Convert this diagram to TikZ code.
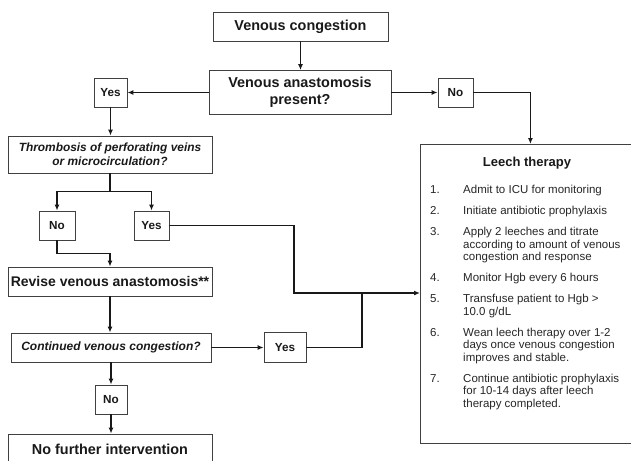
\documentclass[tikz,border=0pt]{standalone}
\usepackage{fontspec}
\setmainfont{Liberation Sans}
\usetikzlibrary{arrows.meta}

\newcommand{\bigbf}{\fontsize{14.4}{17.3}\selectfont\bfseries}
\newcommand{\smallbf}{\fontsize{11.7}{14}\selectfont\bfseries}
\newcommand{\askbf}{\fontsize{11.9}{14}\selectfont\bfseries\itshape}
\newcommand{\listfont}{\fontsize{11.5}{12.5}\selectfont}

\tikzset{
  box/.style={draw=black!75, line width=0.8pt, inner sep=0pt, minimum height=29pt, text=black!90},
  wire/.style={line width=1.5pt, black!90},
  flow/.style={wire, -{Latex[length=6pt,width=5pt]}}
}

\begin{document}
\begin{tikzpicture}[x=1pt,y=-1pt]
    \useasboundingbox (0,0) rectangle (631,460);
    \clip (0,0) rectangle (631,460);
    % boxes
    \node[box, minimum width=175pt, font=\bigbf] (cong) at (300.5,26.5) {Venous congestion};
    \node[box, minimum width=182pt, minimum height=44pt, align=center, font=\bigbf] (anast) at (300,92.5) {Venous anastomosis\\present?};
    \node[box, minimum width=33pt, font=\smallbf] (yesA) at (110.5,92.5) {Yes};
    \node[box, minimum width=35pt, font=\smallbf] (noA)  at (455.5,92.5) {No};
    \node[box, minimum width=204pt, minimum height=37pt, align=center, font=\askbf] (thromb) at (110,154.5) {Thrombosis of perforating veins\\or microcirculation?};
    \node[box, minimum width=36pt, font=\smallbf] (noB)  at (57,225.5)    {No};
    \node[box, minimum width=35pt, font=\smallbf] (yesB) at (151.5,225.5) {Yes};
    \node[box, minimum width=204pt, font=\fontsize{14}{17}\selectfont\bfseries] (revise) at (110,281.5) {Revise venous anastomosis**};
    \node[box, minimum width=200pt, font=\fontsize{12}{14}\selectfont\bfseries\itshape] (cont) at (111,347.5) {Continued venous congestion?};
    \node[box, minimum width=42pt, minimum height=30pt, font=\smallbf] (yesC) at (285,347.5) {Yes};
    \node[box, minimum width=32pt, font=\smallbf] (noC)  at (111,399.5) {No};
    \node[box, minimum width=204pt, minimum height=30pt, font=\bigbf] (none) at (110,449) {No further intervention};
    % leech therapy
    \node[box, minimum width=220pt, minimum height=299pt, anchor=north west] (leech) at (420,144) {};
    \node[font=\fontsize{13}{15}\selectfont\bfseries, text=black!90] (leechT) at (527,163) {Leech therapy};
    \node[anchor=north west, inner sep=0pt, font=\listfont, text=black!85] (steps) at (430,185) {%
      \begin{tabular}{@{}p{33pt}@{}p{170pt}@{}}
      1. & Admit to ICU for monitoring\\[8.5pt]
      2. & Initiate antibiotic prophylaxis\\[8.5pt]
      3. & Apply 2 leeches and titrate\newline according to amount of venous\newline congestion and response\\[8.5pt]
      4. & Monitor Hgb every 6 hours\\[8.5pt]
      5. & Transfuse patient to Hgb >\newline 10.0 g/dL\\[8.5pt]
      6. & Wean leech therapy over 1-2\newline days once venous congestion\newline improves and stable.\\[8.5pt]
      7. & Continue antibiotic prophylaxis\newline for 10-14 days after leech\newline therapy completed.
      \end{tabular}};
    % connectors
    \coordinate (bend)  at (294,293);
    \coordinate (merge) at (362,293);
    \draw[flow] (cong.south) -- (cong.south |- anast.north);
    \draw[flow] (anast.west) -- (yesA.east);
    \draw[flow] (anast.east) -- (noA.west);
    \draw[flow] (noA.east) -| (leech.north);
    \draw[flow] (yesA.south) -- (yesA.south |- thromb.north);
    \draw[wire] (thromb.south) -- ++(0,18) coordinate (fork);
    \draw[flow] (fork) -| (noB);
    \draw[flow] (fork) -| (yesB);
    \draw[flow] (noB.south) -- ++(0,13) -| (revise.north);
    \draw[flow] (yesB.east) -| (bend) -- (bend -| leech.west);
    \draw[flow] (revise.south) -- (revise.south |- cont.north);
    \draw[flow] (cont.east) -- (yesC.west);
    \draw[wire] (yesC.east) -| (merge);
    \draw[flow] (cont.south) -- (noC.north);
    \draw[flow] (noC.south) -- (noC.south |- none.north);
\end{tikzpicture}
\end{document}
